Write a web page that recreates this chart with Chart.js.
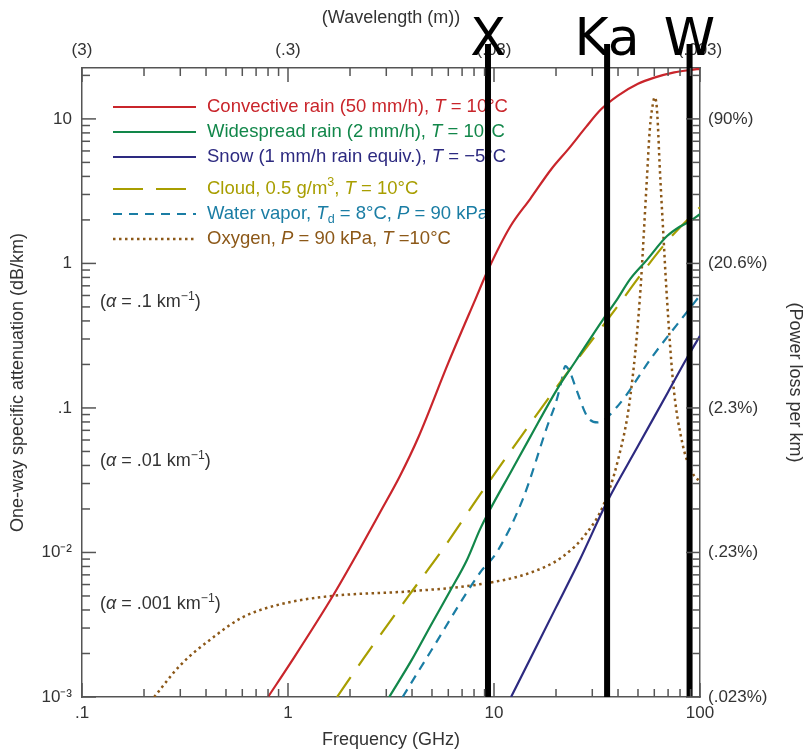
<!DOCTYPE html>
<html>
<head>
<meta charset="utf-8">
<script src="https://cdn.jsdelivr.net/npm/chart.js@4.4.1/dist/chart.umd.min.js"></script>
<style>
html,body{margin:0;padding:0;background:#fff;}
#wrap{width:809px;height:756px;}
</style>
</head>
<body>
<div id="wrap"><canvas id="attenChart" width="809" height="756"></canvas></div>
<script>
// frequencies in GHz, attenuation in dB/km
const convFreq  = [0.8, 1.05, 1.65, 2.2, 2.8, 3.5, 4.3, 6, 8.1, 9.35, 12, 15, 19, 23, 28, 33, 40, 50, 60, 75, 90, 100];
const convAtten = [0.001, 0.0018, 0.005, 0.0102, 0.019, 0.034, 0.063, 0.205, 0.56, 0.9, 1.8, 2.8, 4.5, 6.2, 8.8, 11.6, 14.5, 17.5, 19.3, 21, 21.8, 22.2];

const wideFreq  = [3.1, 4, 5, 6.1, 7.4, 8.55, 9.6, 12, 15, 20.2, 25, 33.8, 39.6, 45.7, 55, 69, 80, 89, 100];
const wideAtten = [0.001, 0.00182, 0.00324, 0.00537, 0.00891, 0.01445, 0.02, 0.0355, 0.0631, 0.134, 0.213, 0.409, 0.564, 0.776, 1.05, 1.54, 1.8, 1.95, 2.19];

const snowFreq  = [12.1, 15, 20, 26.1, 35.4, 50, 70, 86, 100];
const snowAtten = [0.001, 0.00184, 0.00417, 0.00891, 0.0224, 0.0545, 0.129, 0.219, 0.316];

const cloudFreq  = [1.73, 2.31, 4.04, 5.5, 8.55, 13.8, 21.5, 39.6, 52.7, 71, 100];
const cloudAtten = [0.001, 0.00182, 0.0055, 0.01, 0.0251, 0.066, 0.158, 0.5, 0.87, 1.48, 2.45];

const vaporFreq  = [3.6, 4.9, 8.55, 10.3, 13.8, 18.1, 20.2, 21.2, 22.2, 23.5, 24.8, 28.4, 31.9, 39.6, 59, 86, 100];
const vaporAtten = [0.001, 0.00204, 0.00724, 0.01, 0.0234, 0.0741, 0.115, 0.151, 0.195, 0.174, 0.141, 0.087, 0.0794, 0.102, 0.229, 0.457, 0.6];

const oxyFreq  = [0.224, 0.3, 0.44, 0.6, 0.91, 1.65, 3.77, 8.55, 15, 21.5, 28, 33.8, 40, 45.7, 51, 55.2, 57, 59, 60.3, 61.5, 62.5, 63.6, 66.2, 68.7, 74, 82, 92, 100];
const oxyAtten = [0.001, 0.00166, 0.00263, 0.00355, 0.00437, 0.00501, 0.00537, 0.00603, 0.00724, 0.00933, 0.0135, 0.0209, 0.0437, 0.115, 0.562, 3.8, 8.3, 12.6, 14.1, 12.6, 8.9, 5.0, 1.72, 0.66, 0.151, 0.0575, 0.0355, 0.0309];

const bandNames = ['X', 'Ka', 'W'];
const bandFreqs = [9.35, 35.4, 89];

const bottomTickLabels = ['.1', '1', '10', '100'];
const topTickLabels    = ['(3)', '(.3)', '(.03)', '(.003)'];
const xDecades = [-1, 0, 1, 2];
const leftTickLabels  = ['10\u207B\u00B3', '10\u207B\u00B2', '.1', '1', '10'];
const rightTickLabels = ['(.023%)', '(.23%)', '(2.3%)', '(20.6%)', '(90%)'];
const yDecades = [-3, -2, -1, 0, 1];

const seriesNames  = ['Convective rain', 'Widespread rain', 'Snow', 'Cloud', 'Water vapor', 'Oxygen'];
const seriesColors = ['#c9252b', '#12874a', '#2d2a80', '#a89e00', '#1a7da4', '#8c5818'];
const legendText = [
  [['Convective rain (50 mm/h), ', 'n'], ['T', 'i'], [' = 10\u00B0C', 'n']],
  [['Widespread rain (2 mm/h), ', 'n'], ['T', 'i'], [' = 10\u00B0C', 'n']],
  [['Snow (1 mm/h rain equiv.), ', 'n'], ['T', 'i'], [' = \u22125\u00B0C', 'n']],
  [['Cloud, 0.5 g/m', 'n'], ['3', 'sup'], [', ', 'n'], ['T', 'i'], [' = 10\u00B0C', 'n']],
  [['Water vapor, ', 'n'], ['T', 'i'], ['d', 'sub'], [' = 8\u00B0C, ', 'n'], ['P', 'i'], [' = 90 kPa', 'n']],
  [['Oxygen, ', 'n'], ['P', 'i'], [' = 90 kPa, ', 'n'], ['T', 'i'], [' =10\u00B0C', 'n']]
];
const alphaText = [
  [['(', 'n'], ['\u03B1', 'i'], [' = .1 km', 'n'], ['\u22121', 'sup'], [')', 'n']],
  [['(', 'n'], ['\u03B1', 'i'], [' = .01 km', 'n'], ['\u22121', 'sup'], [')', 'n']],
  [['(', 'n'], ['\u03B1', 'i'], [' = .001 km', 'n'], ['\u22121', 'sup'], [')', 'n']]
];

const FONT = "'Liberation Sans', Arial, sans-serif";
Chart.defaults.font.family = FONT;
Chart.defaults.color = '#333';

function isDecade(v){ const l = Math.log10(v); return Math.abs(l - Math.round(l)) < 1e-6; }
function isWholeStep(v){
    const m = v / Math.pow(10, Math.floor(Math.log10(v) + 1e-9));
    return Math.abs(m - Math.round(m)) < 1e-6;
}
function decadeLabels(labels, decades){
    return v => {
        if(!isDecade(v)) return '';
        const i = decades.indexOf(Math.round(Math.log10(v)));
        return i < 0 ? '' : labels[i];
    };
}
function pts(xs, ys){ return xs.map((x, i) => ({x: x, y: ys[i]})); }

function drawRich(ctx, segs, x, y, size, color){
    ctx.fillStyle = color;
    ctx.textBaseline = 'middle';
    ctx.textAlign = 'left';
    segs.forEach(([txt, st]) => {
        let fs = size, dy = 0, style = '';
        if(st === 'i') style = 'italic ';
        if(st === 'sup'){ fs = size * 0.68; dy = -size * 0.33; }
        if(st === 'sub'){ fs = size * 0.68; dy = size * 0.32; }
        ctx.font = style + fs + 'px ' + FONT;
        ctx.fillText(txt, x, y + dy);
        x += ctx.measureText(txt).width;
    });
}

const dashes = [[], [], [], [24, 14], [9, 7], [2.5, 3.5]];
const seriesFreq  = [convFreq, wideFreq, snowFreq, cloudFreq, vaporFreq, oxyFreq];
const seriesAtten = [convAtten, wideAtten, snowAtten, cloudAtten, vaporAtten, oxyAtten];

const datasets = [];
bandFreqs.forEach((f, i) => {
    datasets.push({
        label: bandNames[i], data: [{x: f, y: 0.001}, {x: f, y: 33}],
        borderColor: '#000', borderWidth: 6, pointRadius: 0, tension: 0, clip: false, borderCapStyle: 'butt'
    });
});
seriesNames.forEach((name, i) => {
    datasets.push({
        label: name, data: pts(seriesFreq[i], seriesAtten[i]),
        borderColor: seriesColors[i], borderWidth: i === 5 ? 2.5 : 2.2, borderDash: dashes[i],
        pointRadius: 0, cubicInterpolationMode: 'monotone', fill: false
    });
});

const legendRows = [107, 132, 157, 189, 214, 239];
const overlay = {
    id: 'overlay',
    beforeDatasetsDraw(chart){
        const ctx = chart.ctx;
        ctx.save();
        legendRows.forEach((y, i) => {
            ctx.strokeStyle = seriesColors[i];
            ctx.lineWidth = i === 5 ? 2.5 : 2.2;
            ctx.setLineDash(i === 3 ? [30, 13] : dashes[i]);
            ctx.beginPath(); ctx.moveTo(113, y); ctx.lineTo(196, y); ctx.stroke();
            ctx.setLineDash([]);
            drawRich(ctx, legendText[i], 207, y, 18.5, seriesColors[i]);
        });
        const ys = chart.scales.y;
        [0.537, 0.0427, 0.00437].forEach((v, i) => {
            drawRich(ctx, alphaText[i], 100, ys.getPixelForValue(v), 18, '#333');
        });
        ctx.restore();
    },
    afterDraw(chart){
        const ctx = chart.ctx, a = chart.chartArea;
        ctx.save();
        ctx.strokeStyle = '#555';
        ctx.lineWidth = 1.5;
        ['x', 'x2'].forEach(id => {
            const s = chart.scales[id];
            s.ticks.forEach(t => {
                if(!isWholeStep(t.value)) return;
                const px = s.getPixelForValue(t.value);
                const len = isDecade(t.value) ? 14 : 8;
                ctx.beginPath();
                if(id === 'x'){ ctx.moveTo(px, a.bottom); ctx.lineTo(px, a.bottom - len); }
                else { ctx.moveTo(px, a.top); ctx.lineTo(px, a.top + len); }
                ctx.stroke();
            });
        });
        ['y', 'y2'].forEach(id => {
            const s = chart.scales[id];
            s.ticks.forEach(t => {
                if(!isWholeStep(t.value)) return;
                const py = s.getPixelForValue(t.value);
                const len = isDecade(t.value) ? 14 : 8;
                ctx.beginPath();
                if(id === 'y'){ ctx.moveTo(a.left, py); ctx.lineTo(a.left + len, py); }
                else { ctx.moveTo(a.right, py); ctx.lineTo(a.right - len, py); }
                ctx.stroke();
            });
        });
        // band letters
        ctx.fillStyle = '#000';
        ctx.font = "52px 'DejaVu Sans', sans-serif";
        ctx.textAlign = 'center';
        ctx.textBaseline = 'alphabetic';
        bandFreqs.forEach((f, i) => {
            ctx.fillText(bandNames[i], chart.scales.x.getPixelForValue(f), 55);
        });
        ctx.restore();
    }
};

const axisBorder = {display: true, color: '#555', width: 1.5};
const noGrid = {display: false, drawTicks: false};
const logX = {type: 'logarithmic', min: 0.1, max: 100};
const logY = {type: 'logarithmic', min: 0.001, max: 22.5};

new Chart(document.getElementById('attenChart').getContext('2d'), {
    type: 'line',
    data: {datasets: datasets},
    options: {
        responsive: false,
        animation: false,
        layout: {padding: 0},
        plugins: {legend: {display: false}, tooltip: {enabled: false}},
        scales: {
            x: Object.assign({}, logX, {
                position: 'bottom', grid: noGrid, border: axisBorder,
                ticks: {autoSkip: false, maxRotation: 0, padding: 6, font: {size: 17}, callback: decadeLabels(bottomTickLabels, xDecades)},
                title: {display: true, text: 'Frequency (GHz)', font: {size: 18}, padding: {top: 0, bottom: 5}},
                afterFit: s => { s.height = 59; }
            }),
            x2: Object.assign({}, logX, {
                position: 'top', grid: noGrid, border: axisBorder,
                ticks: {autoSkip: false, maxRotation: 0, padding: 7, font: {size: 17}, callback: decadeLabels(topTickLabels, xDecades)},
                title: {display: true, text: '(Wavelength (m))', font: {size: 18}, padding: {top: 7, bottom: 0}},
                afterFit: s => { s.height = 68; }
            }),
            y: Object.assign({}, logY, {
                position: 'left', grid: noGrid, border: axisBorder,
                ticks: {autoSkip: false, padding: 10, font: {size: 17}, callback: decadeLabels(leftTickLabels, yDecades)},
                title: {display: true, text: 'One-way specific attenuation (dB/km)', font: {size: 18}, padding: {top: 7, bottom: 0}},
                afterFit: s => { s.width = 82; }
            }),
            y2: Object.assign({}, logY, {
                position: 'right', grid: noGrid, border: axisBorder,
                ticks: {autoSkip: false, padding: 8, font: {size: 17}, callback: decadeLabels(rightTickLabels, yDecades)},
                title: {display: true, text: '(Power loss per km)', font: {size: 18}, padding: {top: 3, bottom: 0}},
                afterFit: s => { s.width = 109; }
            })
        }
    },
    plugins: [overlay]
});
</script>
</body>
</html>
